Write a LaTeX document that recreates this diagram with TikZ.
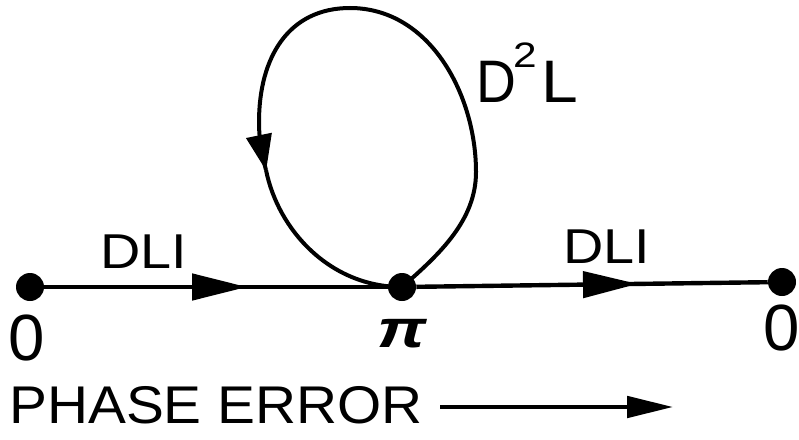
\documentclass[tikz,border=0pt]{standalone}
\usepackage{fontspec}
\setmainfont{Liberation Sans}
\usetikzlibrary{arrows.meta,decorations.markings}
\tikzset{
  dot/.style={circle, fill=black, minimum size=21pt, inner sep=0pt},
  lbl/.style={inner sep=0pt, anchor=base},
  mainline/.style={line width=3.3pt},
  loopline/.style={line width=3pt},
  midarrow/.style={postaction={decorate}, decoration={markings,
      mark=at position #1 with {\arrow{Triangle[length=41pt,width=19.5pt]}}}},
  startarrow/.style={postaction={decorate}, decoration={markings,
      mark=at position 0.5pt with {\arrow{Triangle[length=27pt,width=19pt]}}}},
}
\begin{document}
\begin{tikzpicture}[x=0.75pt,y=-0.75pt]
\useasboundingbox (0,0) rectangle (799,439);
% nodes
\node[dot] (o1) at (30,287) {};
\node[dot] (pi) at (402,287) {};
\node[dot] (o2) at (782,282) {};
% main line
\draw[mainline, midarrow=0.59] (o1) -- (pi);
\draw[mainline, midarrow=0.63] (pi) -- (o2);
% loop
\coordinate (tip) at (266,170);
\draw[loopline] (pi.center)
   .. controls (440,254) and (476,220) .. (476,172)
   .. controls (476,95) and (430,8) .. (350,8)
   .. controls (288,8) and (259,58) .. (259,122)
   .. controls (259,140) and (262,155) .. (tip);
\draw[loopline, startarrow] (tip) .. controls (278,230) and (330,287) .. (pi.center);
% labels
\node[lbl] (dli1) at (143.5,268) {\scalebox{1.14}[1]{\fontsize{36.7}{40}\selectfont DLI}};
\node[lbl] (dli2) at (607,263) {\scalebox{1.14}[1]{\fontsize{36.7}{40}\selectfont DLI}};
\node[lbl] (d2lD) at (496,102) {\scalebox{0.92}[1]{\fontsize{45}{50}\selectfont D}};
\node[lbl] (d2l2) at (525,67) {\scalebox{1.2}[1]{\fontsize{26.5}{30}\selectfont 2}};
\node[lbl] (d2lL) at (560,102) {\scalebox{1.1}[1]{\fontsize{45}{50}\selectfont L}};
\node[lbl] (z1) at (27,360) {\fontsize{49}{52}\selectfont 0};
\node[lbl] (z2) at (782,350) {\fontsize{49}{52}\selectfont 0};
\node[lbl] (pil) at (402,347) {\scalebox{1.3}[1]{\fontsize{40}{44}\selectfont\bfseries\itshape π}};
\node[lbl] (pe) at (216,423) {\scalebox{1.07}[1]{\fontsize{39.8}{44}\selectfont PHASE ERROR}};
% phase error arrow
\coordinate (pa1) at (440,407);
\coordinate (pa2) at (673,407);
\draw[line width=3pt, -{Triangle[length=34.5pt,width=16pt]}] (pa1) -- (pa2);
\end{tikzpicture}
\end{document}
